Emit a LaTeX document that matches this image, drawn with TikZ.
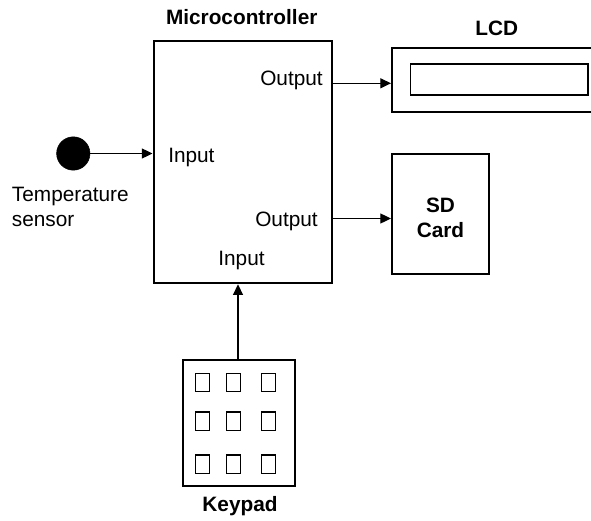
\documentclass[tikz,border=0pt]{standalone}
\usepackage{fontspec}
\setmainfont{Liberation Sans}
\usetikzlibrary{fit,arrows.meta}
\begin{document}
\begin{tikzpicture}[x=0.75pt,y=-0.75pt,
  box/.style={draw,line width=1.5pt,inner sep=0pt},
  thinbox/.style={draw,line width=0.9pt,inner sep=0pt},
  lbl/.style={inner sep=0pt,font=\fontsize{15.6}{18}\selectfont},
  blbl/.style={lbl,font=\fontsize{15.6}{18}\selectfont\bfseries},
  conn/.style={line width=0.9pt,-{Triangle[length=8pt,width=7.5pt]}}]
\useasboundingbox (0,0) rectangle (591,520);
\clip (0,0) rectangle (591,520);
% boxes
\node[box,fit={(153.5,41) (331.7,283.3)}] (mc) {};
\node[box,fit={(392,48) (620,111.7)}] (lcd) {};
\node[thinbox,fit={(410.7,64) (588,95)}] (lcdin) {};
\node[box,fit={(392,154) (489,274)}] (sd) {};
\node[box,fit={(183.3,360) (295,485.7)}] (kp) {};
\node[circle,fill=black,draw=black,minimum size=25pt,inner sep=0pt] (ts) at (73.3,153.5) {};
% keys
\foreach \c/\x in {1/202.8,2/233.8,3/268.7}{
  \foreach \r/\y in {1/382.5,2/421.2,3/464.2}{
    \node[thinbox,minimum width=10.5pt,minimum height=13.8pt] (k\r\c) at (\x,\y) {};
  }
}
% labels
\node[blbl,anchor=base] (mct) at (241.7,24.5) {Microcontroller};
\node[blbl,anchor=base] (lcdt) at (496.7,36) {LCD};
\node[blbl,anchor=base] (sdt1) at (440.5,212.7) {SD};
\node[blbl,anchor=base] (sdt2) at (440.5,237.3) {Card};
\node[blbl,anchor=base] (kpt) at (240,511.7) {Keypad};
\node[lbl,anchor=base east] (o1) at (323,86) {Output};
\node[lbl,anchor=base east] (o2) at (318,226) {Output};
\node[lbl,anchor=base west] (i1) at (168,162.3) {Input};
\node[lbl,anchor=base] (i2) at (241.5,265.7) {Input};
\node[lbl,anchor=base west] (tt1) at (11.7,201.7) {Temperature};
\node[lbl,anchor=base west] (tt2) at (11.7,226) {sensor};
% connectors
\draw[conn] (ts.east) -- (ts.east -| mc.west);
\draw[conn] (mc.east |- 0,83.3) coordinate (a1) -- (a1 -| lcd.west);
\draw[conn] (mc.east |- 0,218.5) coordinate (a2) -- (a2 -| sd.west);
\draw[conn] (kp.north -| 238,0) coordinate (a3) -- (a3 |- mc.south);
\end{tikzpicture}
\end{document}
